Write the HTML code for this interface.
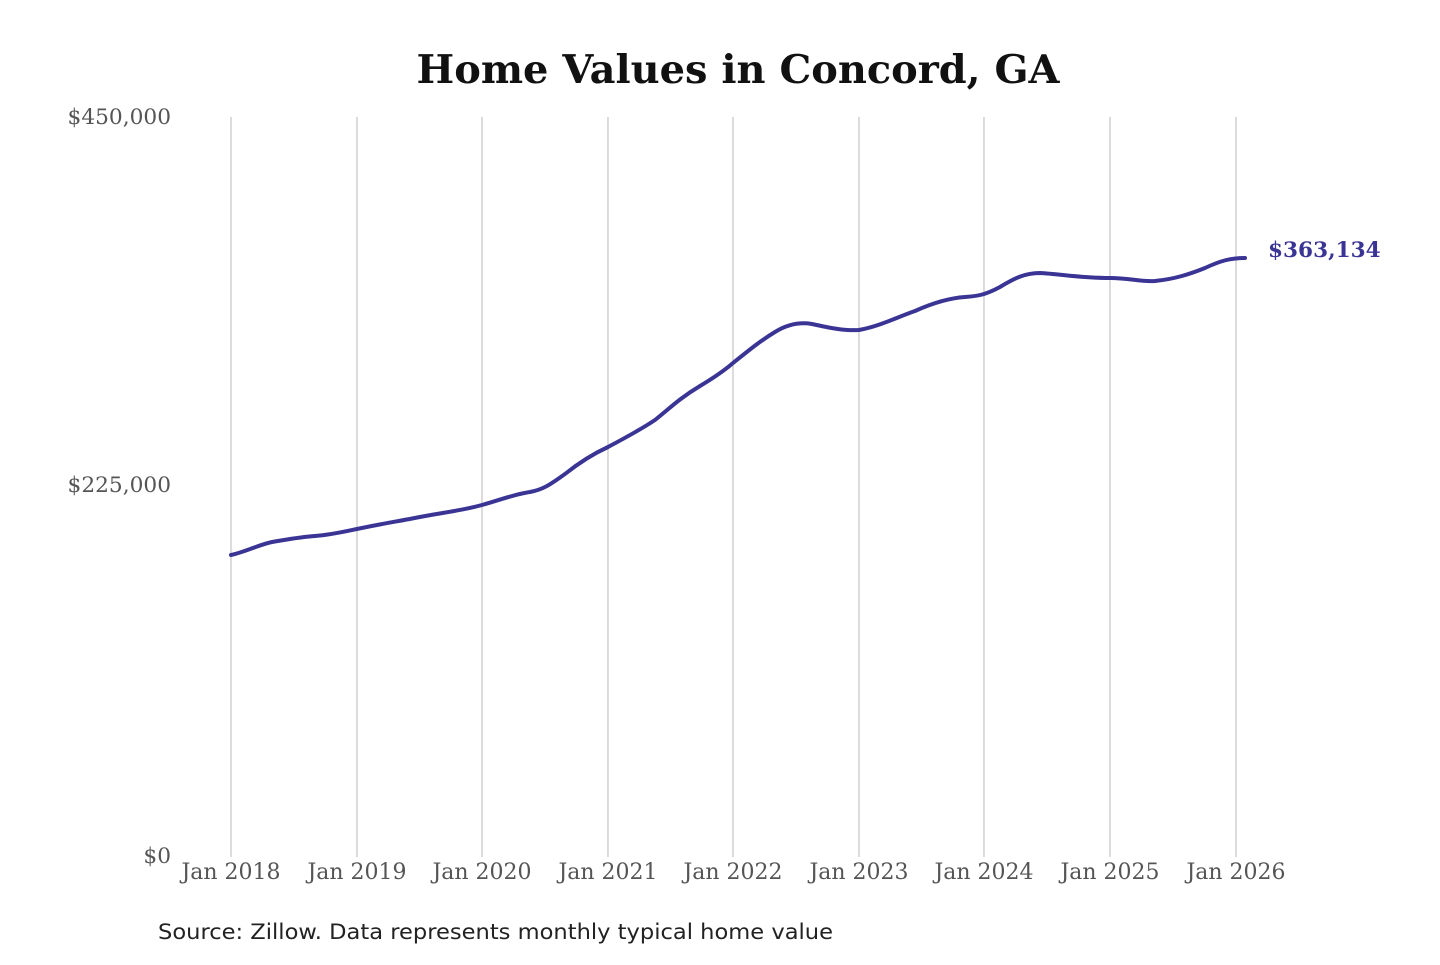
<!DOCTYPE html>
<html><head><meta charset="utf-8"><style>
body{margin:0;background:#fff;width:1440px;height:960px;overflow:hidden}
</style></head><body>
<svg width="1440" height="960" xmlns="http://www.w3.org/2000/svg">
<text x="738" y="83" text-anchor="middle" font-family="DejaVu Serif, serif" font-weight="bold" font-size="39.5" fill="#111" textLength="643" lengthAdjust="spacingAndGlyphs">Home Values in Concord, GA</text>
<g stroke="#c8c8c8" stroke-width="1.3">
<line x1="231" y1="117" x2="231" y2="857"/><line x1="357" y1="117" x2="357" y2="857"/>
<line x1="482" y1="117" x2="482" y2="857"/><line x1="608" y1="117" x2="608" y2="857"/>
<line x1="733" y1="117" x2="733" y2="857"/><line x1="859" y1="117" x2="859" y2="857"/>
<line x1="984" y1="117" x2="984" y2="857"/><line x1="1110" y1="117" x2="1110" y2="857"/>
<line x1="1236" y1="117" x2="1236" y2="857"/>
</g>
<g font-family="DejaVu Serif, serif" font-size="21.7" fill="#555">
<text x="171" y="124" text-anchor="end">$450,000</text>
<text x="171" y="492" text-anchor="end">$225,000</text>
<text x="171" y="863" text-anchor="end">$0</text>
<g text-anchor="middle" font-size="22">
<text x="231" y="879">Jan 2018</text><text x="357" y="879">Jan 2019</text>
<text x="482" y="879">Jan 2020</text><text x="608" y="879">Jan 2021</text>
<text x="733" y="879">Jan 2022</text><text x="859" y="879">Jan 2023</text>
<text x="984" y="879">Jan 2024</text><text x="1110" y="879">Jan 2025</text>
<text x="1236" y="879">Jan 2026</text></g>
</g>
<path fill="none" stroke="#3a3594" stroke-width="4" stroke-linejoin="round" stroke-linecap="round"
d="M231,555 C245,552 258,545 272,542 C290,539 300,537 315,536 C330,535 343,532 357,529 C380,524 400,521 420,517 C440,513 460,511 482,505 C500,500 515,494 530,492 C545,489 552,483 565,474 C580,462 595,453 608,447 C625,438 640,430 655,420 C670,408 680,398 700,386 C715,377 725,370 733,363 C748,351 760,341 775,332 C788,324 800,322 812,324 C830,328 845,331 859,330 C880,326 895,318 915,311 C935,302 950,298 965,297 C978,296 985,295 1000,287 C1015,278 1025,273 1040,273 C1060,274 1080,278 1110,278 C1130,278 1140,282 1155,281 C1175,279 1190,274 1205,268 C1220,261 1230,258 1245,258"/>
<text x="1268" y="257" font-family="DejaVu Serif, serif" font-weight="bold" font-size="21.6" fill="#3a3594">$363,134</text>
<text x="158" y="939" font-family="DejaVu Sans, sans-serif" font-size="21" fill="#222" textLength="675" lengthAdjust="spacingAndGlyphs">Source: Zillow. Data represents monthly typical home value</text>
</svg>
</body></html>
